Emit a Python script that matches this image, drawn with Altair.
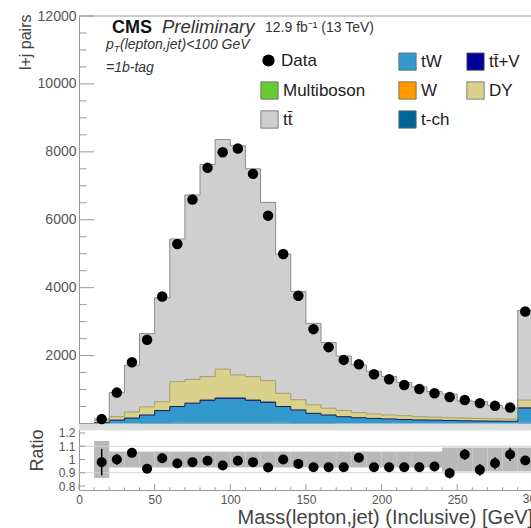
import altair as alt
import pandas as pd

F = "Liberation Sans"

# ---------------- data ----------------
bin_lo = [10, 20, 30, 40, 50, 60, 70, 80, 90, 100, 110, 120, 130, 140, 150,
          160, 170, 180, 190, 200, 210, 220, 230, 240, 250, 260, 270, 280, 290]
bin_hi = [20, 30, 40, 50, 60, 70, 80, 90, 100, 110, 120, 130, 140, 150, 160,
          170, 180, 190, 200, 210, 220, 230, 240, 250, 260, 270, 280, 290, 300]
bin_c = [15, 25, 35, 45, 55, 65, 75, 85, 95, 105, 115, 125, 135, 145, 155,
         165, 175, 185, 195, 205, 215, 225, 235, 245, 255, 265, 275, 285, 295]

data_counts = [130, 910, 1805, 2463, 3740, 5286, 6593, 7528, 7988, 8097, 7351, 6121,
               4991, 3761, 2778, 2248, 1873, 1746, 1451, 1304, 1136, 1018, 891, 780,
               690, 600, 520, 470, 3300]

# stacked simulation, bottom -> top
tch = [2, 5, 8, 12, 18, 22, 26, 30, 32, 32, 30, 27, 22, 18, 14, 12, 10, 8, 7, 6,
       6, 5, 5, 4, 4, 4, 3, 3, 20]
tW = [22, 91, 146, 230, 350, 463, 556, 640, 696, 696, 640, 585, 463, 370, 276, 230,
      183, 156, 138, 124, 110, 96, 91, 83, 73, 68, 64, 59, 425]
ttV = [1, 4, 6, 8, 12, 15, 18, 20, 22, 22, 20, 18, 15, 12, 10, 8, 7, 6, 5, 5, 4, 4,
       4, 3, 3, 3, 3, 3, 15]
Wj = [1, 2, 3, 4, 5, 6, 7, 8, 8, 8, 7, 6, 5, 4, 3, 3, 2, 2, 2, 2, 2, 1, 1, 1, 1, 1,
      1, 1, 6]
multib = [0, 1, 1, 2, 3, 4, 5, 5, 6, 6, 5, 5, 4, 3, 3, 2, 2, 2, 1, 1, 1, 1, 1, 1, 1,
          1, 1, 1, 4]
DY = [64, 97, 176, 234, 252, 720, 688, 677, 836, 666, 678, 619, 381, 293, 244, 195,
      176, 146, 127, 112, 107, 93, 83, 78, 78, 73, 68, 63, 220]
ttbar = [43, 710, 1379, 2158, 3063, 4203, 5428, 6247, 6764, 6750, 6121, 5252, 4101,
         3189, 2399, 1936, 1608, 1404, 1260, 1134, 976, 881, 756, 700, 505, 501, 395,
         323, 2637]

ratio = [0.98, 1.0, 1.05, 0.93, 1.01, 0.97, 0.98, 0.99, 0.955, 0.99, 0.98, 0.94, 1.0,
         0.967, 0.942, 0.942, 0.942, 1.013, 0.942, 0.942, 0.942, 0.942, 0.947, 0.897,
         1.038, 0.922, 0.972, 1.038, 0.992]
ratio_err = [0.10, 0.04, 0.03, 0.025, 0.02, 0.02, 0.015, 0.015, 0.015, 0.015, 0.015,
             0.015, 0.02, 0.02, 0.02, 0.025, 0.025, 0.025, 0.03, 0.03, 0.03, 0.035,
             0.035, 0.04, 0.04, 0.045, 0.045, 0.05, 0.02]
band_half = [0.14] + [0.06] * 22 + [0.09] * 6

procs = ["t-ch", "tW", "tt\u0304+V", "W", "Multiboson", "DY", "tt\u0304"]
proc_vals = [tch, tW, ttV, Wj, multib, DY, ttbar]
edge_cols = {"tt\u0304+V": "#1b1b55", "DY": "#a39d66", "tt\u0304": "#8c8c8c"}

# ---------------- tables ----------------
rows = []
lower = [0.0] * len(bin_lo)
for p, vals in zip(procs, proc_vals):
    for i, lo in enumerate(bin_lo):
        rows.append({"proc": p, "x": lo, "lo": lower[i], "up": lower[i] + vals[i],
                     "lc": edge_cols.get(p, "none")})
    rows.append({"proc": p, "x": bin_hi[-1], "lo": lower[-1], "up": lower[-1] + vals[-1],
                 "lc": edge_cols.get(p, "none")})
    lower = [lower[i] + vals[i] for i in range(len(bin_lo))]
stack = pd.DataFrame(rows)

pts = pd.DataFrame({"c": bin_c, "n": data_counts, "lab": ["Data"] * len(bin_c)})
rat = pd.DataFrame({"c": bin_c, "lo": bin_lo, "hi": bin_hi, "r": ratio,
                    "r0": [r - e for r, e in zip(ratio, ratio_err)],
                    "r1": [r + e for r, e in zip(ratio, ratio_err)],
                    "b0": [1 - h for h in band_half],
                    "b1": [1 + h for h in band_half]})

# ---------------- scales / axes ----------------
W_PLOT, H_PLOT = 452, 474
xs = alt.Scale(domain=[0, 298.8], nice=False, zero=False)
ms = alt.Scale(domain=[0, 12000], range=[407.5, 0], nice=False, zero=False)
rs = alt.Scale(domain=[0.77, 1.23], range=[474, 413], nice=False, zero=False)

x_axis = alt.Axis(values=[0, 50, 100, 150, 200, 250], format="d", labelFontSize=12,
                  labelFont=F, labelColor="#555", labelPadding=4, ticks=False, tickSize=0,
                  domainColor="#999", grid=False, labelFlush=False, labelOverlap=False,
                  title="Mass(lepton,jet) (Inclusive) [GeV]", titleFontSize=20,
                  titleFont=F, titleFontWeight="normal", titleColor="#444",
                  titleAlign="left", titleX=158, titleY=33, titleBaseline="alphabetic")
m_axis = alt.Axis(values=[2000, 4000, 6000, 8000, 10000, 12000], format="d",
                  labelFontSize=14, labelFont=F, labelColor="#555", labelPadding=3,
                  ticks=False, tickSize=0, domainColor="#999", grid=False,
                  labelFlush=False, labelOverlap=False, orient="left",
                  title="l+j pairs", titleFontSize=16, titleFont=F,
                  titleFontWeight="normal", titleColor="#444", titleAngle=-90,
                  titleAlign="right", titleBaseline="alphabetic", titleX=-49, titleY=-2)
r_axis = alt.Axis(values=[0.8, 0.9, 1.0, 1.1, 1.2],
                  labelExpr="datum.value == 1 ? '1' : format(datum.value, '.1f')",
                  labelFontSize=12, labelFont=F, labelColor="#555", labelPadding=4,
                  ticks=False, tickSize=0, domainColor="#999", grid=False,
                  labelFlush=False, labelOverlap=False, orient="left",
                  title="Ratio", titleFontSize=18, titleFont=F, titleFontWeight="normal",
                  titleColor="#444", titleAngle=-90, titleAlign="center",
                  titleBaseline="alphabetic", titleX=-37, titleY=434)


def X(f):
    return alt.X(f, type="quantitative", scale=xs, axis=x_axis)


def YM(f):
    return alt.Y(f, type="quantitative", scale=ms, axis=m_axis)


def YR(f):
    return alt.Y(f, type="quantitative", scale=rs, axis=r_axis)


leg_common = dict(title=None, orient="none", labelFontSize=17, labelFont=F,
                  labelColor="#222", padding=0, labelOffset=4)

# ---------------- main panel ----------------
# legend is filled column by column: (tW, W, t-ch) then (tt+V, DY)
blue_set = ["tW", "W", "t-ch", "tt\u0304+V", "DY"]
area_a = alt.Chart(stack[stack["proc"].isin(blue_set)]).mark_area(
    interpolate="step-after").encode(
    x=X("x"), y=YM("up"), y2="lo",
    color=alt.Color("proc:N", scale=alt.Scale(
        domain=blue_set, range=["#3399cc", "#ff9900", "#006699", "#000099", "#dad28c"]),
        legend=alt.Legend(legendX=319, legendY=36, columns=2, columnPadding=15,
                          rowPadding=8, symbolType="square", symbolSize=300,
                          symbolStrokeColor="#666", symbolStrokeWidth=0.8,
                          **leg_common)),
    detail="proc:N")
area_b = alt.Chart(stack[stack["proc"].isin(["Multiboson", "tt\u0304"])]).mark_area(
    interpolate="step-after").encode(
    x=X("x"), y=YM("up"), y2="lo",
    fill=alt.Fill("proc:N", scale=alt.Scale(domain=["Multiboson", "tt\u0304"],
                                             range=["#66cc33", "#cfcfcf"]),
                  legend=alt.Legend(legendX=181, legendY=65, rowPadding=8,
                                    symbolType="square", symbolSize=300,
                                    symbolStrokeColor="#666", symbolStrokeWidth=0.8,
                                    **leg_common)),
    detail="proc:N")
edges = alt.Chart(stack[stack["lc"] != "none"]).mark_line(
    interpolate="step-after", strokeWidth=1).encode(
    x=X("x"), y=YM("up"), stroke=alt.Stroke("lc:N", scale=None), detail="proc:N")
points = alt.Chart(pts).mark_point(filled=True, size=110, color="black", opacity=1).encode(
    x=X("c"), y=YM("n"),
    shape=alt.Shape("lab:N", scale=alt.Scale(domain=["Data"], range=["circle"]),
                    legend=alt.Legend(legendX=181, legendY=36, symbolSize=150,
                                      symbolFillColor="black", symbolStrokeColor="black",
                                      **leg_common)))

ytk = pd.DataFrame({"v": list(range(0, 12001, 500))})
ytk["len"] = [10 if v % 2000 == 0 else 5 for v in ytk["v"]]
ytk["z"] = 0
yticks = alt.Chart(ytk).mark_rule(color="#999", strokeWidth=1).encode(
    x=X("z"), x2="len", y=YM("v"))
frame = pd.DataFrame({"v": [12000]})
top_frame = alt.Chart(frame).mark_rule(color="#999", strokeWidth=1.2).encode(
    x=alt.value(0), x2=alt.value(W_PLOT), y=YM("v"))
strip = alt.Chart(pd.DataFrame({"a": [0], "b": [-200]})).mark_rect(color="#dcdcdc").encode(
    x=alt.value(0), x2=alt.value(W_PLOT), y=YM("a"), y2="b")


def txt(s, x, y, size, style="normal", weight="normal", color="#222"):
    return alt.Chart(pd.DataFrame({"t": [s]})).mark_text(
        align="left", baseline="alphabetic", fontSize=size, font=F, fontStyle=style,
        fontWeight=weight, color=color).encode(
        text="t:N", x=alt.value(x), y=alt.value(y))


texts = [
    txt("CMS", 33, 17, 18, weight="bold", color="#111"),
    txt("Preliminary", 83, 17, 18.5, style="italic", color="#333"),
    txt("12.9 fb\u207b\u00b9 (13 TeV)", 186, 16, 14, color="#333"),
    txt("p", 27, 33, 14, style="italic", color="#333"),
    txt("T", 35, 36, 9, style="italic", color="#333"),
    txt("(lepton,jet)<100 GeV", 41, 33, 14, style="italic", color="#333"),
    txt("=1b-tag", 27, 56, 14, style="italic", color="#333"),
]

main = alt.layer(strip, area_a, area_b, edges, yticks, top_frame, points, *texts)

# ---------------- ratio panel ----------------
band = alt.Chart(rat).mark_rect(color="#b8b8b8").encode(x=X("lo"), x2="hi", y=YR("b0"), y2="b1")
refl = alt.Chart(pd.DataFrame({"v": [0.9, 1.1]})).mark_rule(color="#d2d2d2", strokeWidth=1).encode(
    x=alt.value(0), x2=alt.value(W_PLOT), y=YR("v"))
errs = alt.Chart(rat).mark_rule(color="black", strokeWidth=1.5).encode(x=X("c"), y=YR("r0"), y2="r1")
rpts = alt.Chart(rat).mark_point(filled=True, size=100, color="black", opacity=1).encode(
    x=X("c"), y=YR("r"))
rtk = pd.DataFrame({"v": [0.8, 0.9, 1.0, 1.1, 1.2], "z": 0, "len": 4})
rticks = alt.Chart(rtk).mark_rule(color="#999").encode(x=X("z"), x2="len", y=YR("v"))
xtk = pd.DataFrame({"x": list(range(0, 300, 10))})
xtk["b"] = 0.77
xtk["t"] = [0.815 if v % 50 == 0 else 0.79 for v in xtk["x"]]
xticks = alt.Chart(xtk).mark_rule(color="#999").encode(x=X("x"), y=YR("b"), y2="t")
# the 300 tick label that sits on the cropped right edge
edge_lab = alt.Chart(pd.DataFrame({"x": [300], "t": ["300"]})).mark_text(
    fontSize=12, font=F, color="#555", baseline="top", align="center").encode(
    x=X("x"), y=alt.value(H_PLOT + 4), text="t:N")

ratio_panel = alt.layer(band, refl, xticks, rticks, errs, rpts, edge_lab)

chart = alt.layer(main, ratio_panel).resolve_scale(y="independent").properties(
    width=W_PLOT, height=H_PLOT,
    padding={"left": 79, "top": 16, "right": 0, "bottom": 38},
    autosize=alt.AutoSizeParams(type="none"),
).configure(font=F).configure_view(stroke=None)

chart.save("out.html", embed_options={"renderer": "svg", "actions": False})
